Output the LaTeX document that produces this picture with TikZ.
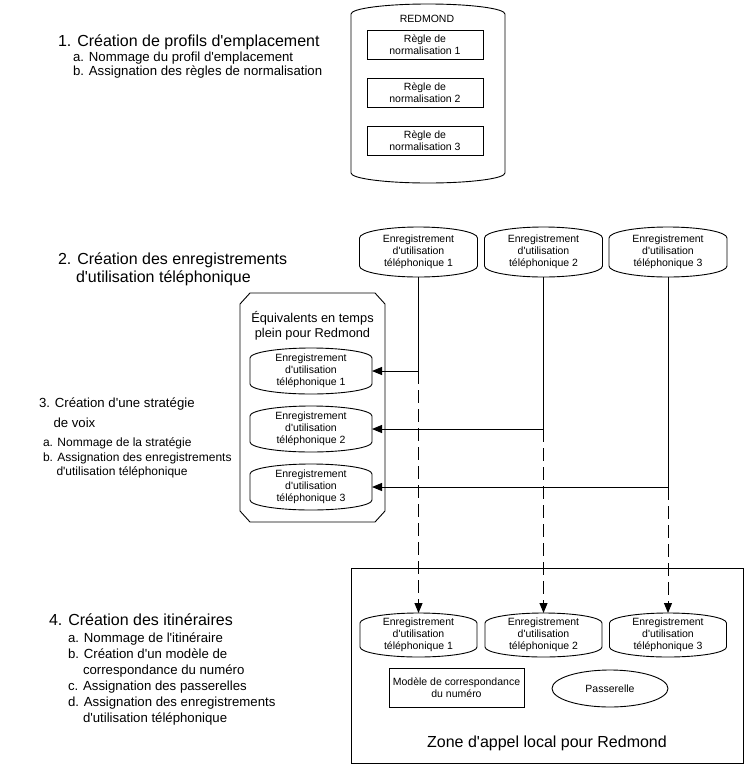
\documentclass[tikz,border=0pt]{standalone}
\usepackage{fontspec}
\newfontfamily\lib{Liberation Sans}
\setmainfont{Liberation Sans}
\usetikzlibrary{arrows.meta,shapes.geometric}
% drum outline: #1 node, #2 half width, #3 bulge depth
\newcommand\drumline[3]{%
  \draw[outline]
   ([yshift=#3]#1.south west) arc[start angle=180, end angle=360, x radius=#2, y radius=#3]
   -- ([yshift=-#3]#1.north east) arc[start angle=0, end angle=180, x radius=#2, y radius=#3]
   -- cycle;
}
% chamfered outline: #1 node, #2 x cut, #3 y cut
\newcommand\octline[3]{%
  \draw[outline]
   ([yshift=-#3]#1.north west) -- ([xshift=#2]#1.north west) -- ([xshift=-#2]#1.north east)
   -- ([yshift=-#3]#1.north east) -- ([yshift=#3]#1.south east) -- ([xshift=-#2]#1.south east)
   -- ([xshift=#2]#1.south west) -- ([yshift=#3]#1.south west) -- cycle;
}
\begin{document}
\begin{tikzpicture}[x=1pt,y=1pt,
  every node/.style={inner sep=0pt, outer sep=0pt, font=\lib},
  outline/.style={draw=black, line width=0.9pt},
  small/.style={font=\lib\fontsize{10.5}{11.8}\selectfont},
  rec/.style={small, align=center, minimum width=118, minimum height=50},
  rulebox/.style={small, outline, align=center, minimum width=116, minimum height=29},
  heading/.style={anchor=base west, font=\lib\fontsize{16}{18}\selectfont},
  sub/.style={anchor=base west, font=\lib\fontsize{13.2}{15}\selectfont},
  headingb/.style={anchor=base west, font=\lib\fontsize{13.2}{16}\selectfont},
  subb/.style={anchor=base west, font=\lib\fontsize{12}{14}\selectfont},
  conn/.style={draw=black, line width=1pt},
  arr/.style={-{Triangle[length=10pt,width=8pt]}},
  dashline/.style={dash pattern=on 13pt off 6pt}
]
\useasboundingbox (0,0) rectangle (746,-766);

% left texts
\node[heading] (h1) at (58,-46.5) {1. Création de profils d'emplacement};
\node[sub] (h1a) at (73,-61.5) {a. Nommage du profil d'emplacement};
\node[sub] (h1b) at (73,-75.5) {b. Assignation des règles de normalisation};

\node[heading] (h2) at (58,-264.5) {2. Création des enregistrements};
\node[heading] (h2c) at (76,-282.5) {d'utilisation téléphonique};

\node[headingb] (h3) at (39,-407) {3. Création d'une stratégie};
\node[headingb] (h3c) at (53.5,-427) {de voix};
\node[subb] (h3a) at (43,-446.5) {a. Nommage de la stratégie};
\node[subb] (h3b) at (43,-461) {b. Assignation des enregistrements};
\node[subb] (h3bc) at (56.5,-475.5) {d'utilisation téléphonique};

\node[heading] (h4) at (49,-625.5) {4. Création des itinéraires};
\node[sub] (h4a) at (68,-642.5) {a. Nommage de l'itinéraire};
\node[sub] (h4b) at (68,-658.5) {b. Création d'un modèle de};
\node[sub] (h4bc) at (83,-674.5) {correspondance du numéro};
\node[sub] (h4c) at (68,-690.5) {c. Assignation des passerelles};
\node[sub] (h4d) at (68,-706.5) {d. Assignation des enregistrements};
\node[sub] (h4dc) at (83,-722.5) {d'utilisation téléphonique};

% REDMOND
\node[minimum width=154, minimum height=179] (red) at (428,-93.5) {};
\drumline{red}{77pt}{10pt}
\node[small] (redt) at (427,-19) {REDMOND};
\node[rulebox] (r1) at (425,-44.5) {Règle de\\normalisation 1};
\node[rulebox] (r2) at (425,-92.5) {Règle de\\normalisation 2};
\node[rulebox] (r3) at (425,-140.5) {Règle de\\normalisation 3};

% top records
\node[rec] (t1) at (418.5,-252) {Enregistrement\\d'utilisation\\téléphonique 1};
\drumline{t1}{59pt}{11pt}
\node[rec] (t2) at (543.5,-252) {Enregistrement\\d'utilisation\\téléphonique 2};
\drumline{t2}{59pt}{11pt}
\node[rec] (t3) at (668,-252) {Enregistrement\\d'utilisation\\téléphonique 3};
\drumline{t3}{59pt}{11pt}

% equivalents
\node[minimum width=145, minimum height=229] (eq) at (312.5,-407.5) {};
\octline{eq}{10pt}{11pt}
\node[align=center, font=\lib\fontsize{12.8}{15}\selectfont] (eqt) at (312.5,-325.5) {Équivalents en temps\\plein pour Redmond};
\node[rec, minimum width=122, minimum height=46] (e1) at (311,-371) {Enregistrement\\d'utilisation\\téléphonique 1};
\drumline{e1}{61pt}{10pt}
\node[rec, minimum width=122, minimum height=46] (e2) at (311,-429) {Enregistrement\\d'utilisation\\téléphonique 2};
\drumline{e2}{61pt}{10pt}
\node[rec, minimum width=122, minimum height=46] (e3) at (311,-487) {Enregistrement\\d'utilisation\\téléphonique 3};
\drumline{e3}{61pt}{10pt}

% zone
\node[outline, minimum width=392, minimum height=195] (zone) at (547,-665.5) {};
\node[font=\lib\fontsize{16}{18}\selectfont] (zonet) at (547,-743) {Zone d'appel local pour Redmond};
\node[rec, minimum width=117, minimum height=44] (b1) at (418.5,-635) {Enregistrement\\d'utilisation\\téléphonique 1};
\drumline{b1}{58.5pt}{10pt}
\node[rec, minimum width=117, minimum height=44] (b2) at (543.5,-635) {Enregistrement\\d'utilisation\\téléphonique 2};
\drumline{b2}{58.5pt}{10pt}
\node[rec, minimum width=117, minimum height=44] (b3) at (668,-635) {Enregistrement\\d'utilisation\\téléphonique 3};
\drumline{b3}{58.5pt}{10pt}
\node[small, outline, align=center, minimum width=135, minimum height=39] (mod) at (456.5,-687.5) {Modèle de correspondance\\du numéro};
\node[small, outline, ellipse, minimum width=116, minimum height=37] (gw) at (610,-688.5) {Passerelle};

% connectors
\coordinate (j1) at (t1.south |- e1.east);
\coordinate (j2) at (t2.south |- e2.east);
\coordinate (j3) at (t3.south |- e3.east);
\draw[conn] (t1.south) -- (j1);
\draw[conn] (t2.south) -- (j2);
\draw[conn] (t3.south) -- (j3);
\draw[conn, arr] (j1) -- (e1.east);
\draw[conn, arr] (j2) -- (e2.east);
\draw[conn, arr] (j3) -- (e3.east);
\draw[conn, dashline, arr] (j1) -- (b1.north);
\draw[conn, dashline, arr] (j2) -- (b2.north);
\draw[conn, dashline, arr] (j3) -- (b3.north);
\end{tikzpicture}
\end{document}
